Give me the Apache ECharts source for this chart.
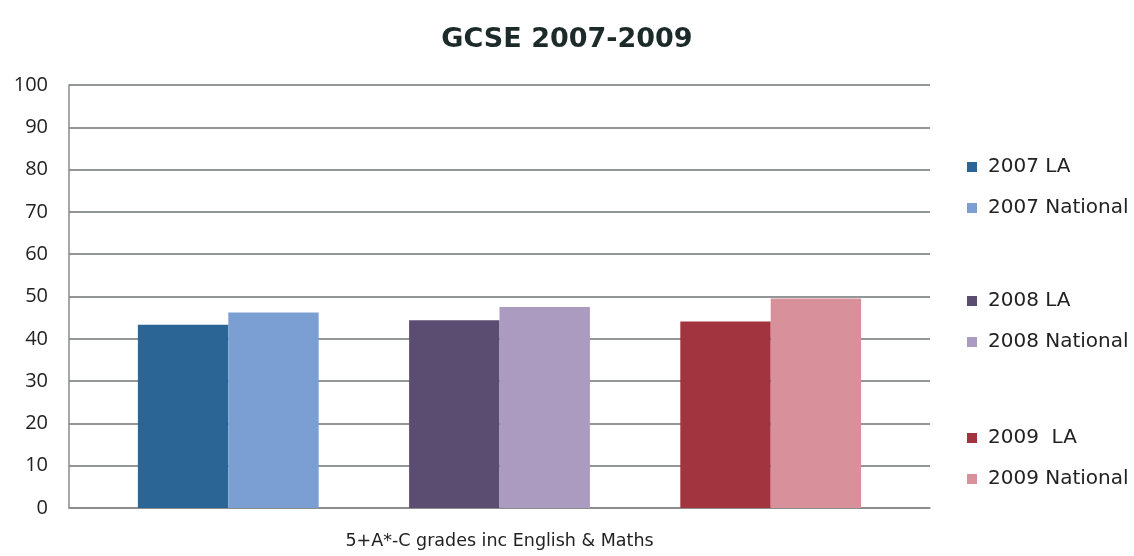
<!DOCTYPE html>
<html><head><meta charset="utf-8">
<script src="https://cdn.jsdelivr.net/npm/echarts@6/dist/echarts.min.js"></script>
<style>html,body{margin:0;padding:0;background:#fff}#c{width:1134px;height:556px}</style>
</head><body><div id="c"></div>
<script>
const categories = ['5+A*-C grades inc English & Maths'];
const seriesNames = ['2007 LA', '2007 National', '', '2008 LA', '2008 National', '', '2009  LA', '2009 National'];
const seriesValues = [43.3, 46.2, null, 44.4, 47.5, null, 44.1, 49.5];
const seriesColors = ['#2b6596', '#7c9fd3', '#ffffff', '#5b4d72', '#ab9bc0', '#ffffff', '#a2343f', '#d8909a'];
const yTicks = [0, 10, 20, 30, 40, 50, 60, 70, 80, 90, 100];

const font = '"Open Sans", sans-serif';
const wide = '"DejaVu Sans", sans-serif';
const series = seriesNames.map((n, i) => ({
  name: n || ('blank' + i),
  type: 'bar',
  data: [seriesValues[i]],
  itemStyle: { color: seriesColors[i] },
  barGap: '0%',
  barCategoryGap: '16%',
  silent: !n
}));

function legendFor(names, top) {
  return {
    orient: 'vertical', left: 967, top: top, padding: 0,
    itemWidth: 10, itemHeight: 10, itemGap: 21, icon: 'rect',
    data: names,
    textStyle: { fontFamily: wide, fontSize: 20, lineHeight: 20, color: '#222', padding: [0, 0, 0, 6] },
    selectedMode: false
  };
}

const chart = echarts.init(document.getElementById('c'));
chart.setOption({
  animation: false,
  title: {
    text: 'GCSE 2007-2009', left: 'center', top: 21,
    textStyle: { fontFamily: wide, fontSize: 27, fontWeight: 'bold', color: '#1c2a29' }
  },
  legend: [
    legendFor(['2007 LA', '2007 National'], 157),
    legendFor(['2008 LA', '2008 National'], 291),
    legendFor(['2009  LA', '2009 National'], 428)
  ],
  grid: { left: 69, right: 204, top: 85, bottom: 48, containLabel: false },
  xAxis: {
    type: 'category', data: categories,
    axisLine: { lineStyle: { color: '#8a8a8a', width: 1.5 } },
    axisTick: { show: false },
    axisLabel: { fontFamily: wide, fontSize: 17.5, color: '#222', margin: 24 }
  },
  yAxis: {
    type: 'value', min: yTicks[0], max: yTicks[yTicks.length - 1], interval: 10,
    axisLine: { show: true, lineStyle: { color: '#8a8a8a', width: 1.5 } },
    axisTick: { show: false },
    axisLabel: { fontFamily: font, fontSize: 20, color: '#222', margin: 21 },
    splitLine: { lineStyle: { color: '#6f7373', width: 1.5 } }
  },
  series: series
});
</script></body></html>
